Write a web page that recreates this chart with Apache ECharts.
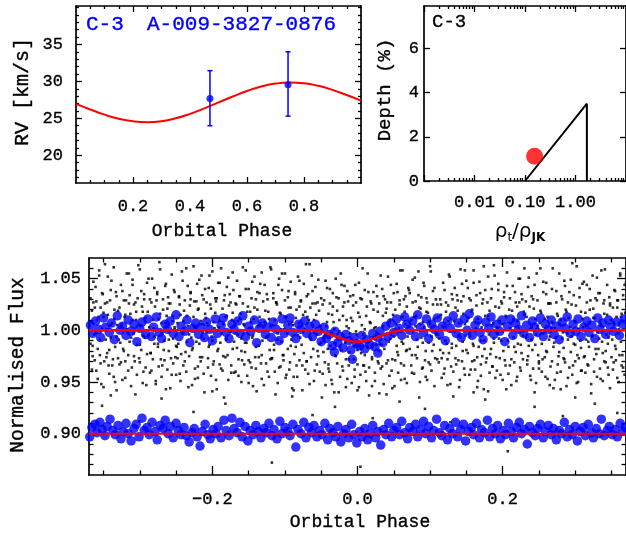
<!DOCTYPE html>
<html><head><meta charset="utf-8">
<script src="https://cdn.jsdelivr.net/npm/echarts@6/dist/echarts.min.js"></script>
<style>html,body{margin:0;padding:0;background:#fff}#c{width:626px;height:533px}</style>
</head><body><div id="c"></div>
<script>
// ---------- RV panel ----------
const rvModelPhase = [0,.05,.1,.15,.2,.25,.3,.35,.4,.45,.5,.55,.6,.65,.7,.75,.8,.85,.9,.95,1];
const rvModelValue = [26.95,26.2,25.5,24.95,24.6,24.47,24.6,25.0,25.6,26.35,27.15,27.95,28.7,29.3,29.7,29.85,29.75,29.4,28.85,28.15,27.4];
const rvPhase = [0.47, 0.744];
const rvValue = [27.7, 29.55];
const rvErrLow = [24.0, 25.3];
const rvErrHigh = [31.45, 34.0];
const rvMajorX = [0.2,0.4,0.6,0.8];
const rvMinorX = [0.05,0.1,0.15,0.25,0.3,0.35,0.45,0.5,0.55,0.65,0.7,0.75,0.85,0.9,0.95];
const rvMajorY = [20,25,30,35];
const rvMinorY = [17,18,19,21,22,23,24,26,27,28,29,31,32,33,34,36,37,38,39,40];
// ---------- Depth panel ----------
const depthTrackRho = [0.1, 1.68, 1.68];
const depthTrackDepth = [0, 3.5, 0];
const depthPointRho = [0.155];
const depthPointDepth = [1.12];
const depthMajorX = [0.001,0.01,0.1,1,10];
const depthLabelX = [0.01,0.1,1];
const depthMinorX = [0.002,0.003,0.004,0.005,0.006,0.007,0.008,0.009,0.02,0.03,0.04,0.05,0.06,0.07,0.08,0.09,0.2,0.3,0.4,0.5,0.6,0.7,0.8,0.9,2,3,4,5,6,7,8,9];
const depthMajorY = [0,2,4,6];
// ---------- Flux panel ----------
const fluxModelPhase = [-0.37,-0.064,-0.056,-0.048,-0.04,-0.032,-0.024,-0.016,-0.008,0,0.008,0.016,0.024,0.032,0.04,0.048,0.056,0.064,0.37];
const fluxModelUpper = [1,1,0.9996,0.9984,0.9966,0.9945,0.9924,0.9906,0.9894,0.989,0.9894,0.9906,0.9924,0.9945,0.9966,0.9984,0.9996,1,1];
const fluxModelLowerPhase = [-0.37,0.37];
const fluxModelLower = [0.9,0.9];
const fluxMajorX = [-0.2,0,0.2];
const fluxMinorX = [-0.35,-0.3,-0.25,-0.15,-0.1,-0.05,0.05,0.1,0.15,0.25,0.3,0.35];
const fluxMajorY = [0.9,0.95,1.0,1.05];
const fluxMinorY = [0.87,0.88,0.89,0.91,0.92,0.93,0.94,0.96,0.97,0.98,0.99,1.01,1.02,1.03,1.04,1.06];
const blackFlux = [
[-.369,1.004],[-.368,.987],[-.366,1.019],[-.365,.975],[-.364,1.027],[-.363,.996],[-.361,1.042],[-.360,.961],[-.359,1.010],[-.358,.982],[-.356,1.053],[-.355,.991],[-.354,1.022],[-.353,.948],[-.351,1.035],[-.350,1.013],[-.349,.970],[-.348,1.064],[-.346,1.001],[-.345,.978],[-.344,1.015],[-.343,.966],[-.341,1.029],[-.340,.993],[-.339,1.048],[-.338,1.007],[-.336,.955],[-.335,1.020],[-.334,.984],[-.333,1.037],[-.332,.942],[-.331,1.005],
[-.329,.991],[-.328,1.022],[-.326,.969],[-.325,1.006],[-.324,1.038],[-.323,.982],[-.321,1.013],[-.320,.954],[-.319,1.029],[-.318,1.001],[-.316,.976],[-.315,1.055],[-.314,.989],[-.313,1.016],[-.311,.964],[-.310,1.044],[-.309,.997],[-.308,1.025],[-.306,.938],[-.305,1.010],[-.304,.986],[-.303,1.031],[-.301,.973],[-.300,1.059],[-.299,1.004],[-.298,.981],[-.296,1.018],[-.295,.960],[-.294,1.035],[-.293,.993],[-.292,1.008],[-.291,.947],
[-.289,1.018],[-.288,.995],[-.286,1.030],[-.285,.978],[-.284,.961],[-.283,1.050],[-.281,1.002],[-.280,.987],[-.279,1.023],[-.278,.951],[-.276,1.037],[-.275,.984],[-.274,1.011],[-.273,1.066],[-.271,.972],[-.270,1.007],[-.269,.966],[-.268,1.020],[-.266,.990],[-.265,1.043],[-.264,.943],[-.263,1.014],[-.261,1.032],[-.260,.980],[-.259,.999],[-.258,1.026],[-.256,.957],[-.255,1.009],[-.254,.992],[-.253,1.039],[-.252,1.003],[-.251,.974],
[-.249,.984],[-.248,1.007],[-.246,1.033],[-.245,.958],[-.244,1.015],[-.243,.977],[-.241,1.048],[-.240,.997],[-.239,1.019],[-.238,.970],[-.236,1.060],[-.235,.989],[-.234,1.004],[-.233,.945],[-.231,1.024],[-.230,1.037],[-.229,.993],[-.228,.981],[-.226,1.013],[-.225,1.028],[-.224,.953],[-.223,1.002],[-.221,1.045],[-.220,.965],[-.219,1.021],[-.218,.987],[-.216,1.009],[-.215,1.053],[-.214,.974],[-.213,.998],[-.212,1.030],[-.211,.940],
[-.209,1.012],[-.208,.998],[-.206,.973],[-.205,1.041],[-.204,.986],[-.203,1.025],[-.201,.994],[-.200,1.057],[-.199,.967],[-.198,1.008],[-.196,1.017],[-.195,.952],[-.194,1.031],[-.193,.980],[-.191,1.003],[-.190,1.046],[-.189,.988],[-.188,.963],[-.186,1.021],[-.185,1.006],[-.184,.935],[-.183,1.034],[-.181,.991],[-.180,1.014],[-.179,.976],[-.178,1.051],[-.176,.999],[-.175,1.027],[-.174,.959],[-.173,1.010],[-.172,.982],[-.171,1.039],
[-.169,.997],[-.168,1.026],[-.166,.983],[-.165,1.009],[-.164,.956],[-.163,1.033],[-.161,1.016],[-.160,.992],[-.159,.971],[-.158,1.061],[-.156,1.005],[-.155,.979],[-.154,1.040],[-.153,.988],[-.151,1.023],[-.150,.949],[-.149,1.002],[-.148,1.018],[-.146,.964],[-.145,1.047],[-.144,.995],[-.143,1.011],[-.141,.974],[-.140,1.030],[-.139,.941],[-.138,1.020],[-.136,.985],[-.135,1.036],[-.134,1.007],[-.133,.968],[-.132,1.056],[-.131,.990],
[-.129,.947],[-.128,1.008],[-.126,.993],[-.125,1.035],[-.124,.960],[-.123,1.018],[-.121,.981],[-.120,1.004],[-.119,1.059],[-.118,.973],[-.116,1.031],[-.115,.986],[-.114,1.010],[-.113,.938],[-.111,1.025],[-.110,.997],[-.109,1.044],[-.108,.964],[-.106,1.016],[-.105,.989],[-.104,1.055],[-.103,.976],[-.101,1.001],[-.100,1.029],[-.099,.954],[-.098,1.013],[-.096,.982],[-.095,1.038],[-.094,1.006],[-.093,.969],[-.092,1.022],[-.091,.991],
[-.089,1.005],[-.088,.942],[-.086,1.037],[-.085,.984],[-.084,1.020],[-.083,.955],[-.081,1.007],[-.080,1.048],[-.079,.993],[-.078,1.029],[-.076,.966],[-.075,1.015],[-.074,.978],[-.073,1.001],[-.071,1.064],[-.070,.970],[-.069,1.013],[-.068,1.035],[-.066,.948],[-.065,1.022],[-.064,.991],[-.063,1.053],[-.061,.982],[-.060,1.010],[-.059,.961],[-.058,1.042],[-.056,.996],[-.055,1.027],[-.054,.975],[-.053,1.019],[-.052,.987],[-.051,1.004],
[-.049,.935],[-.048,1.025],[-.046,.993],[-.045,.969],[-.044,1.048],[-.043,1.004],[-.041,.982],[-.040,1.016],[-.039,.960],[-.038,1.040],[-.036,.997],[-.035,.948],[-.034,1.023],[-.033,1.008],[-.031,.976],[-.030,.988],[-.029,1.032],[-.028,1.019],[-.026,.940],[-.025,.999],[-.024,.984],[-.023,1.055],[-.021,.965],[-.020,1.014],[-.019,.992],[-.018,1.043],[-.016,.972],[-.015,1.010],[-.014,.953],[-.013,1.028],[-.012,1.002],[-.011,.979],
[-.009,1.012],[-.008,.989],[-.006,1.024],[-.005,.972],[-.004,.955],[-.003,1.044],[-.001,.996],[.000,.981],[.001,1.017],[.002,.945],[.004,1.031],[.005,.978],[.006,1.005],[.007,1.060],[.009,.966],[.010,1.001],[.011,.960],[.012,1.014],[.014,.984],[.015,1.037],[.016,.937],[.017,1.008],[.019,1.026],[.020,.974],[.021,.993],[.022,1.020],[.024,.951],[.025,1.003],[.026,.986],[.027,1.033],[.028,.997],[.029,.968],
[.031,.987],[.032,1.053],[.034,.965],[.035,1.004],[.036,1.033],[.037,.982],[.039,1.017],[.040,.938],[.041,1.027],[.042,.971],[.044,1.008],[.045,.992],[.046,1.044],[.047,.961],[.049,1.015],[.050,.999],[.051,.946],[.052,1.020],[.054,.985],[.055,1.037],[.056,.976],[.057,1.002],[.059,1.058],[.060,.968],[.061,.989],[.062,1.013],[.064,1.030],[.065,.953],[.066,1.006],[.067,.980],[.068,1.023],[.069,.994],
[.071,1.039],[.072,.982],[.074,1.010],[.075,.959],[.076,1.027],[.077,.999],[.079,1.051],[.080,.976],[.081,1.014],[.082,.991],[.084,1.034],[.085,.935],[.086,1.006],[.087,1.021],[.089,.963],[.090,.988],[.091,1.046],[.092,1.003],[.094,.980],[.095,1.031],[.096,.952],[.097,1.017],[.099,1.008],[.100,.967],[.101,1.057],[.102,.994],[.104,1.025],[.105,.986],[.106,1.041],[.107,.973],[.108,.998],[.109,1.012],
[.111,.996],[.112,1.013],[.114,.981],[.115,1.025],[.116,.973],[.117,1.004],[.119,.958],[.120,1.039],[.121,.990],[.122,1.018],[.124,.947],[.125,1.009],[.126,.978],[.127,1.052],[.129,.965],[.130,.987],[.131,1.030],[.132,.936],[.134,.999],[.135,1.022],[.136,.985],[.137,1.034],[.139,.971],[.140,1.007],[.141,.952],[.142,.993],[.144,1.045],[.145,.980],[.146,1.016],[.147,.963],[.148,1.058],[.149,.995],
[.151,1.009],[.152,.978],[.154,1.031],[.155,.994],[.156,.962],[.157,1.018],[.159,.987],[.160,1.046],[.161,.971],[.162,.999],[.164,1.024],[.165,.945],[.166,1.011],[.167,.984],[.169,1.036],[.170,.956],[.171,1.003],[.172,.975],[.174,1.062],[.175,.990],[.176,1.014],[.177,.969],[.179,1.027],[.180,.941],[.181,.996],[.182,1.019],[.184,.982],[.185,1.040],[.186,.965],[.187,1.007],[.188,.992],[.189,1.053],
[.191,.974],[.192,1.003],[.194,1.039],[.195,.992],[.196,1.009],[.197,.957],[.199,1.026],[.200,.999],[.201,.980],[.202,1.032],[.204,1.014],[.205,.943],[.206,1.043],[.207,.990],[.209,1.020],[.210,.966],[.211,1.007],[.212,.972],[.214,1.066],[.215,1.011],[.216,.984],[.217,1.037],[.219,.951],[.220,1.023],[.221,.987],[.222,1.002],[.224,1.050],[.225,.961],[.226,.978],[.227,1.030],[.228,.995],[.229,1.018],
[.231,1.016],[.232,.993],[.234,.967],[.235,1.042],[.236,.985],[.237,1.023],[.239,.952],[.240,1.003],[.241,.981],[.242,1.030],[.244,.940],[.245,1.011],[.246,.996],[.247,1.055],[.249,.976],[.250,.963],[.251,1.007],[.252,1.019],[.254,.987],[.255,.972],[.256,1.047],[.257,.998],[.259,.955],[.260,1.035],[.261,.979],[.262,1.013],[.264,.991],[.265,.947],[.266,1.026],[.267,1.002],[.268,.970],[.269,1.060],
[.271,.988],[.272,1.002],[.274,1.027],[.275,.959],[.276,1.014],[.277,.975],[.279,1.006],[.280,.943],[.281,1.033],[.282,.992],[.284,.983],[.285,1.048],[.286,.969],[.287,1.020],[.289,.997],[.290,.954],[.291,1.012],[.292,1.037],[.294,.979],[.295,.994],[.296,1.065],[.297,.966],[.299,1.009],[.300,.986],[.301,1.024],[.302,.949],[.304,1.001],[.305,.973],[.306,1.041],[.307,.990],[.308,1.018],[.309,.961],
[.311,1.003],[.312,.974],[.314,1.017],[.315,.991],[.316,1.044],[.317,.967],[.319,.984],[.320,1.008],[.321,1.029],[.322,.939],[.324,.995],[.325,1.021],[.326,.960],[.327,1.012],[.329,.977],[.330,1.051],[.331,.998],[.332,.982],[.334,1.036],[.335,.953],[.336,1.005],[.337,.989],[.339,1.026],[.340,.970],[.341,1.059],[.342,.980],[.344,1.015],[.345,.964],[.346,.993],[.347,1.032],[.348,.944],[.349,1.010],
[.351,.991],[.352,1.022],[.353,.969],[.354,1.006],[.355,1.038],[.356,.982],[.357,1.013],[.358,.954],[.359,1.029],[.360,1.001],[.361,.976],[.362,1.055],[.363,.989],[.364,1.016],[.366,.964],[.368,1.044],
[-.352,.927],[-.301,.912],[-.270,.934],[-.226,.921],[-.182,.929],[-.151,.905],[-.118,.872],[-.062,.918],[-.031,.926],[.004,.868],[.021,.915],[.058,.931],[.093,.924],[.128,.911],[.176,.933],[.207,.883],[.244,.926],[.283,.917],[.327,.929],[.358,.920],[-.340,.937],[-.200,.941],[-.090,.936],[.030,.939],[.160,.940],[.300,.935],
[-.367,1.008],[-.365,.985],[-.362,1.022],[-.360,.997],[-.357,1.013],[-.355,.976],[-.352,1.001],[-.350,1.017],[-.347,.991],[-.345,1.027],[-.342,.981],[-.340,1.005],[-.337,.972],[-.335,1.011],[-.332,.994],[-.330,1.019],
[-.327,.988],[-.325,1.004],[-.322,.980],[-.320,1.015],[-.317,.998],[-.315,1.026],[-.312,.993],[-.310,1.010],[-.307,.970],[-.305,1.018],[-.302,1.000],[-.300,.986],[-.297,1.023],[-.295,.995],[-.292,1.012],[-.290,.977],
[-.287,1.003],[-.285,.978],[-.282,1.010],[-.280,.994],[-.277,1.029],[-.275,.987],[-.272,1.016],[-.270,.998],[-.267,.981],[-.265,1.007],[-.262,1.021],[-.260,.991],[-.257,.973],[-.255,1.014],[-.252,1.001],[-.250,.985],
[-.247,.987],[-.245,1.025],[-.242,.999],[-.240,1.009],[-.237,.979],[-.235,1.014],[-.232,.996],[-.230,1.030],[-.227,.983],[-.225,1.003],[-.222,.989],[-.220,1.020],[-.217,.974],[-.215,1.006],[-.212,.992],[-.210,1.016],
[-.207,1.007],[-.205,.984],[-.202,1.021],[-.200,.990],[-.197,1.002],[-.195,1.028],[-.192,.982],[-.190,1.009],[-.187,.997],[-.185,.975],[-.182,1.013],[-.180,.992],[-.177,1.024],[-.175,.999],[-.172,1.017],[-.170,.989],
[-.167,1.025],[-.165,.996],[-.162,1.011],[-.160,.980],[-.157,1.006],[-.155,.988],[-.152,1.018],[-.150,.971],[-.147,1.008],[-.145,.993],[-.142,1.022],[-.140,.984],[-.137,1.004],[-.135,1.013],[-.132,.976],[-.130,1.000],
[-.127,1.019],[-.125,.994],[-.122,1.011],[-.120,.972],[-.117,1.005],[-.115,.981],[-.112,1.027],[-.110,.991],[-.107,1.017],[-.105,1.001],[-.102,.976],[-.100,1.013],[-.097,.997],[-.095,1.022],[-.092,.985],[-.090,1.008],
[-.087,.977],[-.085,1.012],[-.082,.995],[-.080,1.023],[-.077,.986],[-.075,1.000],[-.072,1.018],[-.070,.970],[-.067,1.010],[-.065,.993],[-.062,1.026],[-.060,.998],[-.057,1.015],[-.055,.980],[-.052,1.004],[-.050,.988],
[-.047,.979],[-.045,.995],[-.042,1.008],[-.040,.967],[-.037,.985],[-.035,1.015],[-.032,1.001],[-.030,.975],[-.027,.992],[-.025,1.010],[-.022,.981],[-.020,1.023],[-.017,.988],[-.015,1.004],[-.012,.972],[-.010,.997],
[-.007,1.009],[-.005,.985],[-.002,.999],[.000,.967],[.003,1.013],[.005,.982],[.008,.996],[.010,.976],[.013,1.023],[.015,.989],[.018,1.007],[.020,.972],[.023,1.002],[.025,.992],[.028,1.018],[.030,.980],
[.033,.986],[.035,1.014],[.038,.996],[.040,1.021],[.043,.989],[.045,1.010],[.048,.972],[.050,.994],[.053,1.006],[.055,.979],[.058,1.025],[.060,.999],[.063,.987],[.065,1.018],[.068,.981],[.070,1.004],
[.073,1.000],[.075,.976],[.078,1.013],[.080,1.004],[.083,.984],[.085,1.022],[.088,.993],[.090,1.008],[.093,.971],[.095,1.018],[.098,.988],[.100,1.006],[.103,.980],[.105,1.011],[.108,.996],[.110,1.025],
[.113,.992],[.115,1.015],[.118,.978],[.120,1.003],[.123,.987],[.125,1.024],[.128,.999],[.130,.983],[.133,1.009],[.135,.973],[.138,1.019],[.140,.995],[.143,1.028],[.145,.989],[.148,1.006],[.150,.981],
[.153,1.012],[.155,.996],[.158,1.020],[.160,.985],[.163,1.002],[.165,.974],[.168,1.007],[.170,.990],[.173,1.030],[.175,.982],[.178,1.000],[.180,1.014],[.183,.977],[.185,1.005],[.188,.988],[.190,1.023],
[.193,.997],[.195,1.022],[.198,.990],[.200,1.006],[.203,.971],[.205,1.013],[.208,.984],[.210,1.002],[.213,1.019],[.215,.993],[.218,.979],[.220,1.009],[.223,1.027],[.225,.986],[.228,.999],[.230,1.015],
[.233,1.013],[.235,.975],[.238,1.001],[.240,.991],[.243,1.021],[.245,.986],[.248,1.004],[.250,.970],[.253,1.017],[.255,.997],[.258,1.011],[.260,.980],[.263,1.026],[.265,.994],[.268,1.008],[.270,.984],
[.273,.993],[.275,1.016],[.278,.979],[.280,1.010],[.283,.998],[.285,.972],[.288,1.018],[.290,.991],[.293,1.003],[.295,1.025],[.298,.987],[.300,1.008],[.303,.976],[.305,1.001],[.308,.983],[.310,1.011],
[.313,.975],[.315,1.004],[.318,.989],[.320,1.020],[.323,.994],[.325,1.012],[.328,.982],[.330,1.029],[.333,.992],[.335,1.007],[.338,.978],[.340,1.016],[.343,.996],[.345,.987],[.348,1.024],[.350,1.000],
[.353,1.008],[.355,.985],[.358,1.022],[.360,.997],[.363,1.013],[.365,.976],[.367,1.001],[.369,1.017]
];
const blackFluxOuter = [
[-.368,1.031],[-.366,.962],[-.364,1.047],[-.362,.971],[-.360,1.028],[-.358,.953],[-.356,1.058],[-.354,.968],[-.352,1.036],[-.350,.945],[-.348,1.026],[-.346,.974],[-.344,1.052],[-.342,.958],[-.340,1.039],[-.338,.966],[-.336,1.061],[-.334,.950],[-.332,1.033],[-.330,.973],
[-.328,.967],[-.326,1.044],[-.324,.952],[-.322,1.029],[-.320,.970],[-.318,1.055],[-.316,.961],[-.314,1.034],[-.312,.946],[-.310,1.049],[-.308,.975],[-.306,1.027],[-.304,.957],[-.302,1.063],[-.300,.969],[-.298,1.038],[-.296,.949],[-.294,1.030],[-.292,.964],[-.290,1.046],
[-.288,1.050],[-.286,.959],[-.284,1.027],[-.282,.972],[-.280,1.041],[-.278,.948],[-.276,1.035],[-.274,.965],[-.272,1.059],[-.270,.955],[-.268,1.030],[-.266,.971],[-.264,1.045],[-.262,.962],[-.260,1.026],[-.258,.944],[-.256,1.054],[-.254,.968],[-.252,1.037],[-.250,.957],
[-.248,.973],[-.246,1.032],[-.244,.951],[-.242,1.057],[-.240,.966],[-.238,1.029],[-.236,.960],[-.234,1.043],[-.232,.975],[-.230,1.036],[-.228,.947],[-.226,1.062],[-.224,.963],[-.222,1.028],[-.220,.954],[-.218,1.049],[-.216,.970],[-.214,1.034],[-.212,.958],[-.210,1.040],
[-.208,1.027],[-.206,.964],[-.204,1.053],[-.202,.956],[-.200,1.038],[-.198,.970],[-.196,1.031],[-.194,.943],[-.192,1.046],[-.190,.967],[-.188,1.060],[-.186,.961],[-.184,1.029],[-.182,.974],[-.180,1.042],[-.178,.952],[-.176,1.035],[-.174,.966],[-.172,1.056],[-.170,.959],
[-.168,.960],[-.166,1.048],[-.164,.972],[-.162,1.033],[-.160,.950],[-.158,1.026],[-.156,.967],[-.154,1.058],[-.152,.956],[-.150,1.040],[-.148,.969],[-.146,1.031],[-.144,.946],[-.142,1.052],[-.140,.963],[-.138,1.037],[-.136,.974],[-.134,1.045],[-.132,.953],[-.130,1.028],
[-.128,1.044],[-.126,.968],[-.124,1.030],[-.122,.955],[-.120,1.061],[-.118,.973],[-.116,1.036],[-.114,.960],[-.112,1.027],[-.110,.949],[-.108,1.050],[-.106,.965],[-.104,1.039],[-.102,.971],[-.100,1.055],[-.098,.957],[-.096,1.032],[-.094,.962],[-.092,1.047],[-.090,.944],
[-.088,.955],[-.086,1.035],[-.084,.966],[-.082,1.052],[-.080,.971],[-.078,1.028],[-.076,.942],[-.074,1.045],[-.072,.962],[-.070,1.033],[-.068,.958],[-.066,1.064],[-.064,.974],[-.062,1.038],[-.060,.951],[-.058,1.026],[-.056,.967],[-.054,1.049],[-.052,.960],[-.050,1.031],
[-.048,.958],[-.046,1.029],[-.044,.947],[-.042,1.041],[-.040,.963],[-.038,1.026],[-.036,.952],[-.034,1.036],[-.032,.940],[-.030,1.050],[-.028,.968],[-.026,1.031],[-.024,.955],[-.022,1.044],[-.020,.961],[-.018,1.027],[-.016,.945],[-.014,1.038],[-.012,.966],[-.010,1.033],
[-.008,.949],[-.006,1.034],[-.004,.962],[-.002,1.027],[.000,.942],[.002,1.046],[.004,.957],[.006,1.030],[.008,.966],[.010,1.039],[.012,.951],[.014,1.055],[.016,.964],[.018,1.028],[.020,.946],[.022,1.037],[.024,.959],[.026,1.043],[.028,.970],[.030,1.026],
[.032,.963],[.034,1.040],[.036,.948],[.038,1.030],[.040,.968],[.042,1.052],[.044,.956],[.046,1.027],[.048,.944],[.050,1.036],[.052,.971],[.054,1.045],[.056,.959],[.058,1.029],[.060,.952],[.062,1.058],[.064,.966],[.066,1.033],[.068,.949],[.070,1.041],
[.072,1.036],[.074,.966],[.076,1.049],[.078,.958],[.080,1.028],[.082,.973],[.084,1.057],[.086,.950],[.088,1.032],[.090,.964],[.092,1.043],[.094,.955],[.096,1.027],[.098,.969],[.100,1.062],[.102,.961],[.104,1.038],[.106,.946],[.108,1.030],[.110,.972],
[.112,.969],[.114,1.030],[.116,.954],[.118,1.046],[.120,.963],[.122,1.027],[.124,.972],[.126,1.054],[.128,.948],[.130,1.035],[.132,.960],[.134,1.041],[.136,.967],[.138,1.029],[.140,.945],[.142,1.059],[.144,.970],[.146,1.033],[.148,.957],[.150,1.048],
[.152,1.041],[.154,.957],[.156,1.029],[.158,.970],[.160,1.058],[.162,.962],[.164,1.034],[.166,.951],[.168,1.047],[.170,.967],[.172,1.026],[.174,.943],[.176,1.039],[.178,.973],[.180,1.052],[.182,.959],[.184,1.031],[.186,.965],[.188,1.063],[.190,.954],
[.192,.961],[.194,1.045],[.196,.973],[.198,1.028],[.200,.952],[.202,1.037],[.204,.966],[.206,1.056],[.208,.958],[.210,1.031],[.212,.947],[.214,1.043],[.216,.969],[.218,1.027],[.220,.955],[.222,1.050],[.224,.964],[.226,1.035],[.228,.972],[.230,1.060],
[.232,1.028],[.234,.971],[.236,1.051],[.238,.956],[.240,1.033],[.242,.963],[.244,1.044],[.246,.949],[.248,1.029],[.250,.968],[.252,1.060],[.254,.960],[.256,1.037],[.258,.974],[.260,1.046],[.262,.953],[.264,1.026],[.266,.965],[.268,1.040],[.270,.944],
[.272,.952],[.274,1.038],[.276,.967],[.278,1.055],[.280,.960],[.282,1.030],[.284,.973],[.286,1.043],[.288,.946],[.290,1.027],[.292,.964],[.294,1.049],[.296,.957],[.298,1.034],[.300,.970],[.302,1.062],[.304,.950],[.306,1.032],[.308,.961],[.310,1.045],
[.312,1.047],[.314,.959],[.316,1.027],[.318,.966],[.320,1.040],[.322,.948],[.324,1.053],[.326,.972],[.328,1.031],[.330,.955],[.332,1.036],[.334,.963],[.336,1.058],[.338,.951],[.340,1.029],[.342,.969],[.344,1.044],[.346,.957],[.348,1.026],[.350,.974],
[.352,.962],[.354,1.039],[.356,.971],[.358,1.029],[.360,.950],[.362,1.053],[.364,.966],[.366,1.034],[.368,.957],[.370,1.046]
];
const blueUpper = [
[-.368,1.005],[-.365,.997],[-.361,1.009],[-.357,1.001],[-.354,.993],[-.350,1.012],[-.347,1.003],[-.342,.998],[-.339,1.007],[-.335,.991],[-.331,1.014],[-.327,1.000],[-.324,1.004],[-.319,.995],[-.316,1.010],[-.312,.999],[-.308,1.006],[-.304,.989],[-.300,1.002],[-.297,1.008],[-.292,.996],[-.289,1.011],[-.284,.994],[-.281,1.003],[-.277,1.013],[-.273,.998],[-.270,.992],[-.265,1.006],[-.262,1.001],[-.258,1.009],[-.254,.997],[-.250,1.015],[-.246,.994],[-.243,1.004],[-.238,.999],[-.235,1.010],[-.231,.988],[-.227,1.002],[-.223,1.007],[-.219,.996],[-.216,1.003],[-.211,.993],[-.208,1.008],[-.204,1.001],[-.200,.990],[-.196,1.011],[-.193,.997],[-.188,1.005],[-.185,1.012],[-.181,.998],[-.177,.992],[-.173,1.006],[-.170,1.001],[-.165,1.009],[-.162,.997],[-.158,1.014],[-.154,.994],[-.150,1.004],[-.147,.999],[-.142,1.010],[-.139,.988],[-.135,1.002],[-.131,1.007],[-.127,.996],[-.124,1.003],[-.119,.993],[-.116,1.008],[-.112,1.001],[-.108,.990],[-.104,1.011],[-.101,.997],[-.096,1.005],[-.093,1.012],[-.089,.998],[-.085,.992],[-.081,1.006],[-.078,1.001],[-.073,1.009],[-.070,.997],[-.066,1.004],[-.062,.994],[-.058,1.006],[-.054,.999],[-.050,.989],[-.046,1.003],[-.043,.992],[-.039,.996],[-.035,.985],[-.032,.979],[-.031,.999],[-.027,.988],[-.024,.994],[-.020,.983],[-.016,.996],[-.012,.990],[-.009,.981],[-.007,.972],[-.005,.993],[-.001,.987],[.003,.985],[.006,.995],[.010,.982],[.013,.991],[.017,.986],[.021,.997],[.024,.984],[.028,.978],[.028,.993],[.031,.999],[.035,.988],[.039,1.004],[.042,.994],[.046,1.007],[.050,.998],[.054,1.011],[.057,1.002],[.061,.995],[.065,1.013],[.068,1.006],[.072,1.000],[.076,1.009],[.080,.994],[.083,1.015],[.087,1.003],[.091,.998],[.095,1.011],[.098,.992],[.102,1.006],[.106,1.001],[.110,1.012],[.113,.996],[.117,1.004],[.121,.990],[.124,1.009],[.128,1.002],[.132,1.014],[.136,.997],[.139,1.007],[.143,.993],[.147,1.011],[.151,1.000],[.154,1.016],[.158,.995],[.162,1.005],[.166,1.010],[.169,.998],[.173,.991],[.177,1.008],[.181,1.002],[.184,1.013],[.188,.996],[.192,1.006],[.196,.999],[.199,1.010],[.203,.989],[.207,1.004],[.211,1.011],[.214,.995],[.218,1.007],[.222,1.001],[.226,1.014],[.229,.997],[.233,1.005],[.237,.993],[.241,1.009],[.244,1.003],[.248,.998],[.252,1.012],[.256,.994],[.259,1.006],[.263,1.001],[.267,1.010],[.271,.996],[.274,1.004],[.278,.991],[.282,1.008],[.286,1.002],[.289,1.013],[.293,.997],[.297,1.006],[.301,.999],[.304,1.011],[.308,.994],[.312,1.003],[.316,1.009],[.319,.998],[.323,1.005],[.327,.992],[.331,1.012],[.334,1.001],[.338,1.007],[.342,.996],[.346,1.010],[.349,1.003],[.353,.999],[.357,1.008],[.361,.995],[.365,1.006],[.368,1.011]
];
const blueLower = [
[-.369,.897],[-.366,.906],[-.362,.909],[-.359,.901],[-.355,.911],[-.352,.904],[-.348,.898],[-.345,.907],[-.341,.914],[-.337,.903],[-.334,.899],[-.330,.908],[-.326,.895],[-.323,.902],[-.319,.910],[-.316,.900],[-.312,.893],[-.308,.905],[-.305,.909],[-.301,.897],[-.297,.915],[-.294,.903],[-.290,.906],[-.287,.899],[-.283,.911],[-.279,.902],[-.276,.894],[-.272,.908],[-.268,.905],[-.265,.913],[-.261,.900],[-.258,.907],[-.254,.896],[-.250,.910],[-.247,.903],[-.243,.899],[-.239,.906],[-.236,.898],[-.232,.892],[-.228,.901],[-.225,.905],[-.221,.897],[-.217,.888],[-.214,.902],[-.210,.909],[-.206,.899],[-.203,.895],[-.199,.904],[-.195,.900],[-.192,.907],[-.188,.896],[-.184,.913],[-.181,.903],[-.177,.898],[-.173,.915],[-.170,.905],[-.166,.901],[-.162,.911],[-.159,.897],[-.155,.907],[-.151,.893],[-.148,.903],[-.144,.899],[-.140,.908],[-.137,.902],[-.133,.896],[-.129,.905],[-.126,.901],[-.122,.910],[-.118,.898],[-.115,.904],[-.111,.895],[-.107,.912],[-.104,.900],[-.100,.906],[-.096,.902],[-.093,.898],[-.089,.909],[-.085,.887],[-.082,.904],[-.078,.900],[-.074,.911],[-.071,.896],[-.067,.906],[-.063,.901],[-.060,.908],[-.056,.897],[-.052,.903],[-.049,.899],[-.045,.910],[-.041,.894],[-.038,.905],[-.034,.901],[-.030,.897],[-.027,.907],[-.023,.892],[-.019,.900],[-.016,.904],[-.012,.896],[-.008,.909],[-.005,.899],[-.001,.891],[.003,.902],[.006,.897],[.010,.905],[.014,.894],[.017,.900],[.021,.908],[.025,.896],[.028,.902],[.032,.889],[.036,.904],[.039,.899],[.043,.910],[.047,.897],[.050,.903],[.054,.906],[.058,.899],[.061,.912],[.065,.901],[.069,.895],[.072,.906],[.076,.902],[.080,.909],[.083,.897],[.087,.904],[.091,.912],[.094,.900],[.098,.907],[.102,.896],[.105,.903],[.109,.914],[.113,.901],[.116,.898],[.120,.908],[.124,.894],[.127,.905],[.131,.900],[.135,.911],[.138,.897],[.142,.904],[.146,.909],[.149,.893],[.153,.902],[.157,.906],[.160,.899],[.164,.910],[.168,.896],[.171,.904],[.175,.901],[.179,.913],[.182,.897],[.186,.905],[.190,.900],[.193,.908],[.197,.895],[.201,.903],[.204,.899],[.208,.910],[.212,.902],[.215,.896],[.219,.906],[.223,.911],[.226,.900],[.230,.904],[.234,.890],[.237,.907],[.241,.901],[.245,.898],[.248,.905],[.252,.909],[.256,.896],[.259,.902],[.263,.908],[.267,.899],[.270,.905],[.274,.894],[.278,.903],[.281,.900],[.285,.911],[.289,.897],[.292,.904],[.296,.899],[.300,.907],[.303,.893],[.307,.902],[.311,.906],[.314,.898],[.318,.909],[.322,.901],[.325,.896],[.329,.905],[.333,.900],[.336,.914],[.340,.898],[.344,.903],[.347,.907],[.351,.899],[.355,.904],[.358,.897],[.362,.910],[.366,.902],[.369,.906]
];

const MONO = '"Liberation Mono","DejaVu Sans Mono",monospace';
const zip = (a, b) => a.map((v, i) => [v, b[i]]);

function mk(o) {
  const a = {
    type: o.type || 'value', gridIndex: o.g, position: o.pos,
    min: o.min, max: o.max,
    axisLine: {show: !!o.line, onZero: false, lineStyle: {color: '#000', width: 1.7}},
    axisTick: {show: true, inside: true, length: o.len, customValues: o.ticks, lineStyle: {color: '#000', width: 1.3}},
    axisLabel: o.labels ? {show: true, customValues: o.labels, formatter: o.fmt, margin: o.margin,
      color: '#000', fontFamily: MONO, fontSize: 17, textBorderColor: '#000', textBorderWidth: 0.35} : {show: false},
    splitLine: {show: false}, minorTick: {show: false}, minorSplitLine: {show: false}
  };
  if (o.type === 'log') a.logBase = 10;
  return a;
}
const fmt1 = v => v.toFixed(1);
const fmt0 = v => String(Math.round(v));
const fmt2 = v => v.toFixed(2);
const fmtSigned = v => (Math.abs(v) < 1e-9 ? '0.0' : (v < 0 ? '\u2212' : '') + Math.abs(v).toFixed(1));

const xAxes = [
  mk({g:0,pos:'bottom',min:0,max:1,len:6,ticks:rvMajorX,line:true,labels:rvMajorX,fmt:fmt1,margin:15}),
  mk({g:0,pos:'top',min:0,max:1,len:6,ticks:rvMajorX,line:true}),
  mk({g:0,pos:'bottom',min:0,max:1,len:3,ticks:rvMinorX}),
  mk({g:0,pos:'top',min:0,max:1,len:3,ticks:rvMinorX}),
  mk({type:'log',g:1,pos:'bottom',min:0.001,max:10,len:6,ticks:depthMajorX,line:true,labels:depthLabelX,fmt:fmt2,margin:13}),
  mk({type:'log',g:1,pos:'top',min:0.001,max:10,len:6,ticks:depthMajorX,line:true}),
  mk({type:'log',g:1,pos:'bottom',min:0.001,max:10,len:3,ticks:depthMinorX}),
  mk({type:'log',g:1,pos:'top',min:0.001,max:10,len:3,ticks:depthMinorX}),
  mk({g:2,pos:'bottom',min:-0.37,max:0.37,len:9,ticks:fluxMajorX,line:true,labels:fluxMajorX,fmt:fmtSigned,margin:16}),
  mk({g:2,pos:'top',min:-0.37,max:0.37,len:9,ticks:fluxMajorX,line:true}),
  mk({g:2,pos:'bottom',min:-0.37,max:0.37,len:4.5,ticks:fluxMinorX}),
  mk({g:2,pos:'top',min:-0.37,max:0.37,len:4.5,ticks:fluxMinorX})
];
const yAxes = [
  mk({g:0,pos:'left',min:16.25,max:40.2,len:6,ticks:rvMajorY,line:true,labels:rvMajorY,fmt:fmt0,margin:13}),
  mk({g:0,pos:'right',min:16.25,max:40.2,len:6,ticks:rvMajorY,line:true}),
  mk({g:0,pos:'left',min:16.25,max:40.2,len:3,ticks:rvMinorY}),
  mk({g:0,pos:'right',min:16.25,max:40.2,len:3,ticks:rvMinorY}),
  mk({g:1,pos:'left',min:0,max:7.92,len:6,ticks:depthMajorY,line:true,labels:depthMajorY,fmt:fmt0,margin:5}),
  mk({g:1,pos:'right',min:0,max:7.92,len:6,ticks:depthMajorY,line:true}),
  mk({g:1,pos:'left',min:0,max:7.92,len:3,ticks:[]}),
  mk({g:1,pos:'right',min:0,max:7.92,len:3,ticks:[]}),
  mk({g:2,pos:'left',min:0.86,max:1.07,len:9,ticks:fluxMajorY,line:true,labels:fluxMajorY,fmt:fmt2,margin:8}),
  mk({g:2,pos:'right',min:0.86,max:1.07,len:9,ticks:fluxMajorY,line:true}),
  mk({g:2,pos:'left',min:0.86,max:1.07,len:4.5,ticks:fluxMinorY}),
  mk({g:2,pos:'right',min:0.86,max:1.07,len:4.5,ticks:fluxMinorY})
];

const txt = (size, extra) => Object.assign({font: size + 'px ' + MONO, fill: '#000', stroke: '#000', lineWidth: 0.35}, extra);
const blackStyle = {type:'scatter', xAxisIndex:8, yAxisIndex:8, symbol:'rect', symbolSize:2.6, itemStyle:{color:'#000'}, z:2};

const chart = echarts.init(document.getElementById('c'), null, {renderer: 'canvas'});
chart.setOption({
  animation: false,
  backgroundColor: '#fff',
  grid: [
    {left: 76, top: 6, width: 285, height: 177},
    {left: 424, top: 6, width: 205, height: 175},
    {left: 89, top: 258, width: 538, height: 217}
  ],
  xAxis: xAxes,
  yAxis: yAxes,
  series: [
    {type:'line', xAxisIndex:0, yAxisIndex:0, data: zip(rvModelPhase, rvModelValue), smooth:true, symbol:'none',
     lineStyle:{color:'#ff0000', width:2}, z:3},
    {type:'custom', xAxisIndex:0, yAxisIndex:0, z:4,
     data: rvPhase.map((p, i) => [p, rvErrLow[i], rvErrHigh[i]]),
     renderItem: (params, api) => {
       const lo = api.coord([api.value(0), api.value(1)]);
       const hi = api.coord([api.value(0), api.value(2)]);
       const st = {stroke:'#0000ff', lineWidth:1.5};
       return {type:'group', children:[
         {type:'line', shape:{x1:lo[0], y1:lo[1], x2:hi[0], y2:hi[1]}, style:st},
         {type:'line', shape:{x1:lo[0]-2.5, y1:lo[1], x2:lo[0]+2.5, y2:lo[1]}, style:st},
         {type:'line', shape:{x1:hi[0]-2.5, y1:hi[1], x2:hi[0]+2.5, y2:hi[1]}, style:st}
       ]};
     }},
    {type:'scatter', xAxisIndex:0, yAxisIndex:0, data: zip(rvPhase, rvValue), symbolSize:7,
     itemStyle:{color:'#0000ff'}, z:5},
    {type:'line', xAxisIndex:4, yAxisIndex:4, data: zip(depthTrackRho, depthTrackDepth), symbol:'none',
     lineStyle:{color:'#000', width:2}, z:3},
    {type:'scatter', xAxisIndex:4, yAxisIndex:4, data: zip(depthPointRho, depthPointDepth), symbolSize:17,
     itemStyle:{color:'#ff0000'}, z:4},
    Object.assign({data: blackFlux}, blackStyle),
    Object.assign({data: blackFluxOuter}, blackStyle),
    {type:'scatter', xAxisIndex:8, yAxisIndex:8, data: blueUpper, symbolSize:9.5,
     itemStyle:{color:'#0000ff'}, z:3},
    {type:'scatter', xAxisIndex:8, yAxisIndex:8, data: blueLower, symbolSize:9.5,
     itemStyle:{color:'#0000ff'}, z:3},
    {type:'line', xAxisIndex:8, yAxisIndex:8, data: zip(fluxModelPhase, fluxModelUpper), symbol:'none',
     lineStyle:{color:'#ff0000', width:2.5}, z:4},
    {type:'line', xAxisIndex:8, yAxisIndex:8, data: zip(fluxModelLowerPhase, fluxModelLower), symbol:'none',
     lineStyle:{color:'#ff0000', width:2}, z:4}
  ],
  graphic: [
    {type:'text', x:86, y:24, style: txt(21, {text:'C-3', fill:'#0000ff', stroke:'#0000ff', verticalAlign:'middle'})},
    {type:'text', x:147, y:24, style: txt(21, {text:'A-009-3827-0876', fill:'#0000ff', stroke:'#0000ff', verticalAlign:'middle'})},
    {type:'text', x:432, y:22, style: txt(19, {text:'C-3', verticalAlign:'middle'})},
    {type:'text', x:23, y:92, rotation:Math.PI/2, style: txt(20, {text:'RV [km/s]', align:'center', verticalAlign:'middle'})},
    {type:'text', x:385, y:90, rotation:Math.PI/2, style: txt(19, {text:'Depth (%)', align:'center', verticalAlign:'middle'})},
    {type:'text', x:18, y:365, rotation:Math.PI/2, style: txt(19.5, {text:'Normalised Flux', align:'center', verticalAlign:'middle'})},
    {type:'text', x:222, y:231, style: txt(18, {text:'Orbital Phase', align:'center', verticalAlign:'middle'})},
    {type:'text', x:360, y:522, style: txt(18, {text:'Orbital Phase', align:'center', verticalAlign:'middle'})},
    {type:'text', x:520, y:232, style:{text:'{r|ρ}{s|t}{r|/ρ}{j|JK}', align:'center', verticalAlign:'middle',
      rich:{r:{fontFamily:'DejaVu Sans', fontSize:20, fill:'#000', lineHeight:24},
            s:{fontFamily:'DejaVu Sans', fontSize:12, fill:'#000', verticalAlign:'bottom', lineHeight:24},
            j:{fontFamily:'DejaVu Sans', fontWeight:'bold', fontSize:12, fill:'#000', verticalAlign:'bottom', lineHeight:24}}}}
  ]
});
</script></body></html>
